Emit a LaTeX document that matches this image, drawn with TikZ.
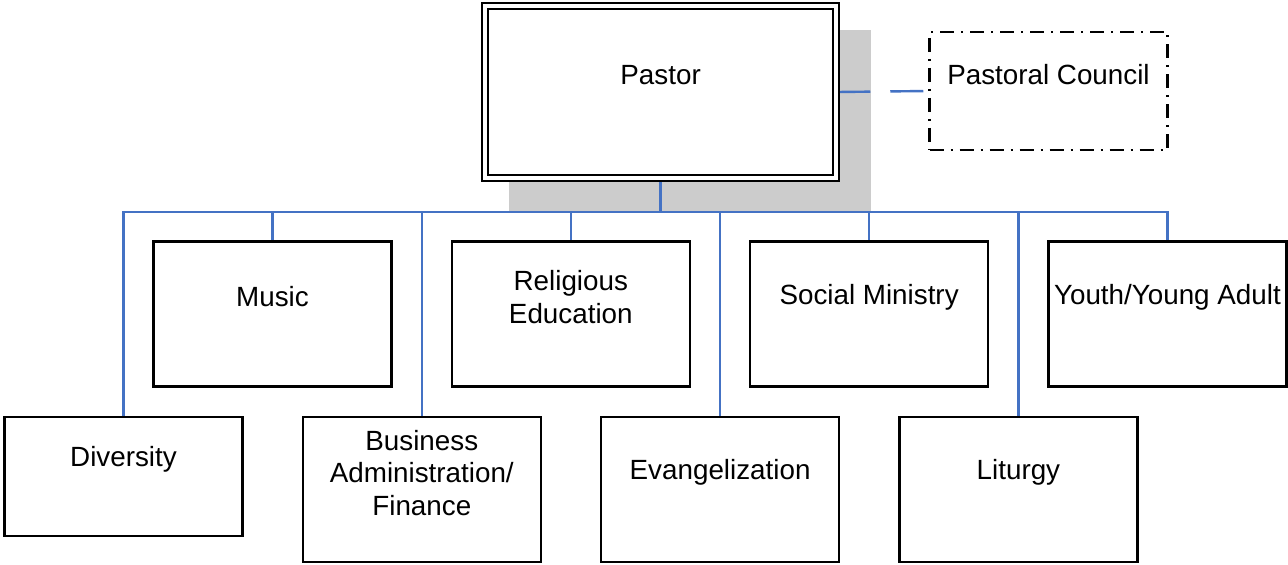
\documentclass[tikz,border=0pt]{standalone}
\usepackage{fontspec}
\setmainfont{Liberation Sans}
\usetikzlibrary{calc,positioning,backgrounds}
\definecolor{linkblue}{HTML}{4472C4}
\definecolor{shadowgray}{HTML}{CCCCCC}

\begin{document}
\begin{tikzpicture}[x=1bp,y=-1bp,line join=miter,
  box/.style={draw,line width=2.5bp,fill=white,minimum width=238bp,minimum height=145bp,inner sep=0pt},
  txt/.style={font=\fontsize{27.8bp}{32.6bp}\selectfont,align=center,inner sep=0pt},
  link/.style={draw=linkblue,line width=2.4bp}]
\useasboundingbox (0,0) rectangle (1288,565);
\node[box,double,double distance=4bp,line width=2.3bp,minimum width=351bp,minimum height=172bp] (P) at (660.6,92) {};
\node[txt] (tP) at ($(P)+(0,-17)$) {Pastor};
\node[box,dash pattern=on 14bp off 7bp on 2bp off 7bp,line width=2.3bp,minimum height=118bp] (PC) at (1048.5,91) {};
\node[txt] (tPC) at ($(PC)+(0,-16)$) {Pastoral Council};
\foreach \i/\x/\y/\h/\t in {M/272.5/314/145/{Music},R/570.8/314/145/{Religious\\Education},S/869.1/314/145/{Social Ministry},Y/1167.4/314/145/{Youth/Young Adult},D/123.5/476.7/119/{Diversity},B/421.8/489.7/145/{Business\\Administration/\\Finance},E/720.1/489.7/145/{Evangelization},L/1018.4/489.7/145/{Liturgy}}{
\node[box,minimum height=\h bp] (\i) at (\x,\y) {};
\node[txt] (t\i) at ($(\i)+(0,-17)$) {\t};}
\begin{scope}[on background layer]
\fill[shadowgray] ($(P.north west)+(25,25)$) rectangle ($(P.south east)+(34,33)$);
\coordinate (bus) at ($(P.south)+(0,33)$);
\foreach \i in {M,R,S,Y,D,B,E,L}{\draw[link] (P.south) -- (bus) -| (\i.north);}
\draw[link,dash pattern=on 33bp off 20bp] (P.east) -- (PC.west);
\end{scope}
\end{tikzpicture}
\end{document}
